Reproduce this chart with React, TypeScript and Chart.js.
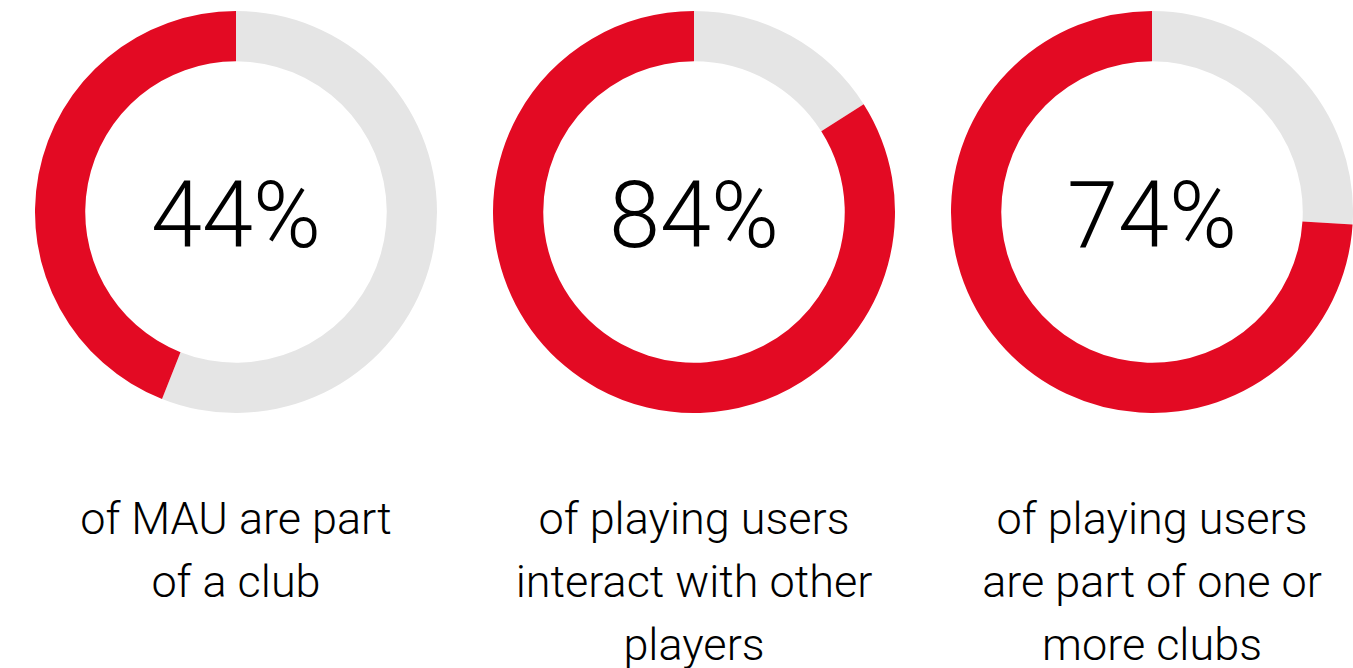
import React, { useEffect, useRef } from "react";
import { Chart, registerables } from "chart.js";

Chart.register(...registerables);

const percentValues = [44, 84, 74];
const percentLabels = ["44%", "84%", "74%"];
const captions = [
  ["of MAU are part", "of a club"],
  ["of playing users", "interact with other", "players"],
  ["of playing users", "are part of one or", "more clubs"],
];
const sliceNames = ["Other", "Share"];

const RED = "#E30A23";
const GREY = "#E5E5E5";
const centersX = [236, 694, 1152];
const RADIUS = 201;
const CENTER_Y = 212;

function Donut({ value }: { value: number }) {
  const ref = useRef<HTMLCanvasElement | null>(null);
  useEffect(() => {
    if (!ref.current) return;
    const chart = new Chart(ref.current, {
      type: "doughnut",
      data: {
        labels: sliceNames,
        datasets: [
          {
            data: [100 - value, value],
            backgroundColor: [GREY, RED],
            borderWidth: 0,
            hoverOffset: 0,
            offset: 0,
          },
        ],
      },
      options: {
        animation: false,
        responsive: false,
        maintainAspectRatio: false,
        cutout: "75%",
        layout: { padding: 0 },
        plugins: {
          legend: { display: false },
          tooltip: { enabled: false },
        },
        events: [],
      },
    });
    return () => chart.destroy();
  }, [value]);
  return <canvas ref={ref} width={RADIUS * 2} height={RADIUS * 2} style={{ display: "block" }} />;
}

export default function App() {
  return (
    <div
      style={{
        position: "fixed",
        left: 0,
        top: 0,
        width: 1353,
        height: 668,
        background: "#fff",
        fontFamily: "Roboto, sans-serif",
        color: "#000",
        overflow: "hidden",
      }}
    >
      {percentValues.map((v, i) => {
        const cx = centersX[i];
        return (
          <React.Fragment key={i}>
            <div
              style={{
                position: "absolute",
                left: cx - RADIUS,
                top: CENTER_Y - RADIUS,
                width: RADIUS * 2,
                height: RADIUS * 2,
              }}
            >
              <Donut value={v} />
            </div>
            <div
              style={{
                position: "absolute",
                left: cx - 200,
                width: 400,
                top: 170,
                fontSize: 92,
                lineHeight: "92px",
                fontWeight: 300,
                textAlign: "center",
              }}
            >
              {percentLabels[i]}
            </div>
            <div
              style={{
                position: "absolute",
                left: cx - 225,
                width: 450,
                top: 487,
                fontSize: 45,
                lineHeight: "63px",
                fontWeight: 300,
                textAlign: "center",
                whiteSpace: "nowrap",
              }}
            >
              {captions[i].map((line, j) => (
                <div key={j}>{line}</div>
              ))}
            </div>
          </React.Fragment>
        );
      })}
    </div>
  );
}
